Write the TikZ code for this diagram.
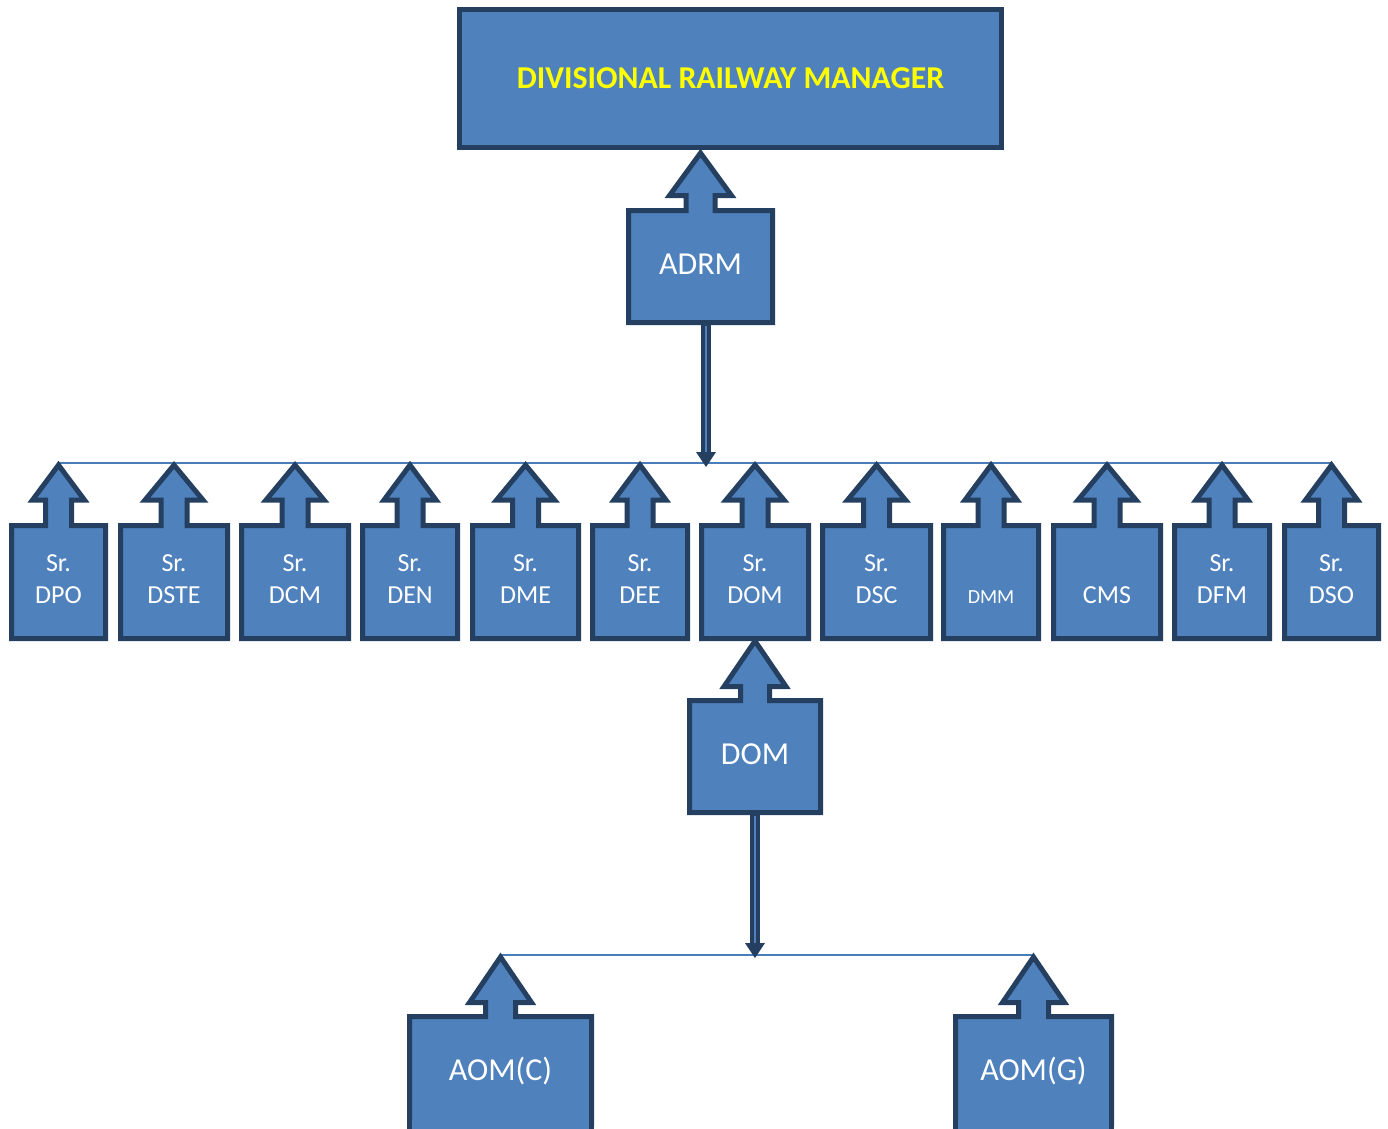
\documentclass[tikz,border=0pt]{standalone}
\usepackage{fontspec}
\setmainfont{Carlito}
\usetikzlibrary{backgrounds}
\definecolor{boxfill}{HTML}{4F81BD}
\definecolor{boxedge}{HTML}{243F60}
\definecolor{linkblue}{HTML}{4A7EBB}
\definecolor{drmtext}{HTML}{FFFF00}
\tikzset{
  co/.style={draw=boxedge, fill=boxfill, line width=5pt, line join=miter},
  lbl/.style={text=white, inner sep=0pt, align=center, yshift=3pt, font=\fontsize{26}{32}\selectfont},
  biglbl/.style={lbl, yshift=-1pt, font=\fontsize{32}{38}\selectfont},
  aomlbl/.style={biglbl, yshift=-3pt},
  hlink/.style={draw=linkblue, line width=2pt},
}
\newcommand\hh{26}
\newcommand\sh{13}
% #1 name #2 left #3 right #4 top #5 bottom #6 headbase #7 tip #8 label style #9 text
\newcommand\callout[9]{%
  \pgfmathsetmacro\coX{(#2+#3)/2}%
  \draw[co] (#2,#4) -- ({\coX-\sh},#4) -- ({\coX-\sh},#6) -- ({\coX-\hh},#6) -- (\coX,#7)
    -- ({\coX+\hh},#6) -- ({\coX+\sh},#6) -- ({\coX+\sh},#4) -- (#3,#4) -- (#3,#5) -- (#2,#5) -- cycle;
  \coordinate (#1-tip) at (\coX,#7);
  \node[inner sep=0pt, minimum width={#3-#2}, minimum height={#5-#4}] (#1) at (\coX,{(#4+#5)/2}) {};
  \node[#8] at (#1.center) {#9};
}
% block arrow down: #1 start, #2 tip coordinate
\newcommand\downlink[2]{%
  \draw[boxedge, line width=10pt] (#1) -- ([yshift=14pt]#2);
  \draw[boxfill, line width=2pt] ([yshift=-3pt]#1) -- ([yshift=12pt]#2);
  \fill[boxedge] ([xshift=-10pt,yshift=15pt]#2) -- (#2) -- ([xshift=10pt,yshift=15pt]#2) -- cycle;
}
\begin{document}
\begin{tikzpicture}[x=1pt, y=-1pt]
\useasboundingbox (0,0) rectangle (1388,1128);
\clip (0,0) rectangle (1388,1128);

\node[draw=boxedge, fill=boxfill, line width=5pt, minimum width=542, minimum height=138, inner sep=0pt,
      text=drmtext, font=\fontsize{31.8}{36}\selectfont\bfseries] (drm) at (730.5,78.5) {DIVISIONAL RAILWAY MANAGER};

\renewcommand\hh{31}\renewcommand\sh{14.5}
\callout{adrm}{628.5}{772.5}{210.5}{322.5}{195.5}{153}{biglbl}{ADRM}

\renewcommand\sh{13}
\renewcommand\hh{26}
\callout{dpo}{11.5}{105.5}{525.5}{638.5}{500}{465}{lbl}{Sr.\\DPO}
\renewcommand\hh{29}
\callout{dste}{120.5}{227.5}{525.5}{638.5}{500}{465}{lbl}{Sr.\\DSTE}
\callout{dcm}{241.5}{348.5}{525.5}{638.5}{500}{465}{lbl}{Sr.\\DCM}
\renewcommand\hh{26}
\callout{den}{362.5}{457.5}{525.5}{638.5}{500}{465}{lbl}{Sr.\\DEN}
\renewcommand\hh{29}
\callout{dme}{472.5}{578.5}{525.5}{638.5}{500}{465}{lbl}{Sr.\\DME}
\renewcommand\hh{26}
\callout{dee}{592.5}{687.5}{525.5}{638.5}{500}{465}{lbl}{Sr.\\DEE}
\renewcommand\hh{29}
\callout{srdom}{701.5}{808.5}{525.5}{638.5}{500}{465}{lbl}{Sr.\\DOM}
\callout{dsc}{822.5}{930.5}{525.5}{638.5}{500}{465}{lbl}{Sr.\\DSC}
\renewcommand\hh{26}
\callout{dmm}{943.5}{1038.5}{525.5}{638.5}{500}{465}{lbl}{\phantom{Sr.}\\{\fontsize{20}{24}\selectfont DMM}}
\renewcommand\hh{29}
\callout{cms}{1053.5}{1160.5}{525.5}{638.5}{500}{465}{lbl}{\phantom{Sr.}\\CMS}
\renewcommand\hh{26}
\callout{dfm}{1174.5}{1269.5}{525.5}{638.5}{500}{465}{lbl}{Sr.\\DFM}
\callout{dso}{1284.5}{1378.5}{525.5}{638.5}{500}{465}{lbl}{Sr.\\DSO}

\renewcommand\hh{31}\renewcommand\sh{14.5}
\callout{dom}{689.5}{820.5}{700.5}{812.5}{686.5}{641}{biglbl}{DOM}
\renewcommand\sh{15}
\callout{aomc}{409.5}{591.5}{1016.5}{1124}{1002.5}{957}{aomlbl}{AOM(C)}
\callout{aomg}{955.5}{1111.5}{1016.5}{1124}{1002.5}{957}{aomlbl}{AOM(G)}
\draw[co, draw=none] (411,1120) rectangle (590,1130);
\draw[co, draw=none] (957,1120) rectangle (1110,1130);
\draw[boxedge, line width=5pt] (409.5,1120) -- (409.5,1130) (591.5,1120) -- (591.5,1130)
  (955.5,1120) -- (955.5,1130) (1111.5,1120) -- (1111.5,1130);

\coordinate (l1) at (706,463);
\coordinate (t1) at (706,467);
\coordinate (l2) at (755,955);
\coordinate (t2) at (755,958);

\begin{pgfonlayer}{background}
\draw[hlink] (dpo-tip |- l1) -- (dso-tip |- l1);
\draw[hlink] (aomc-tip |- l2) -- (aomg-tip |- l2);
\end{pgfonlayer}

\downlink{adrm.south -| t1}{t1}
\downlink{dom.south -| t2}{t2}
\end{tikzpicture}
\end{document}
